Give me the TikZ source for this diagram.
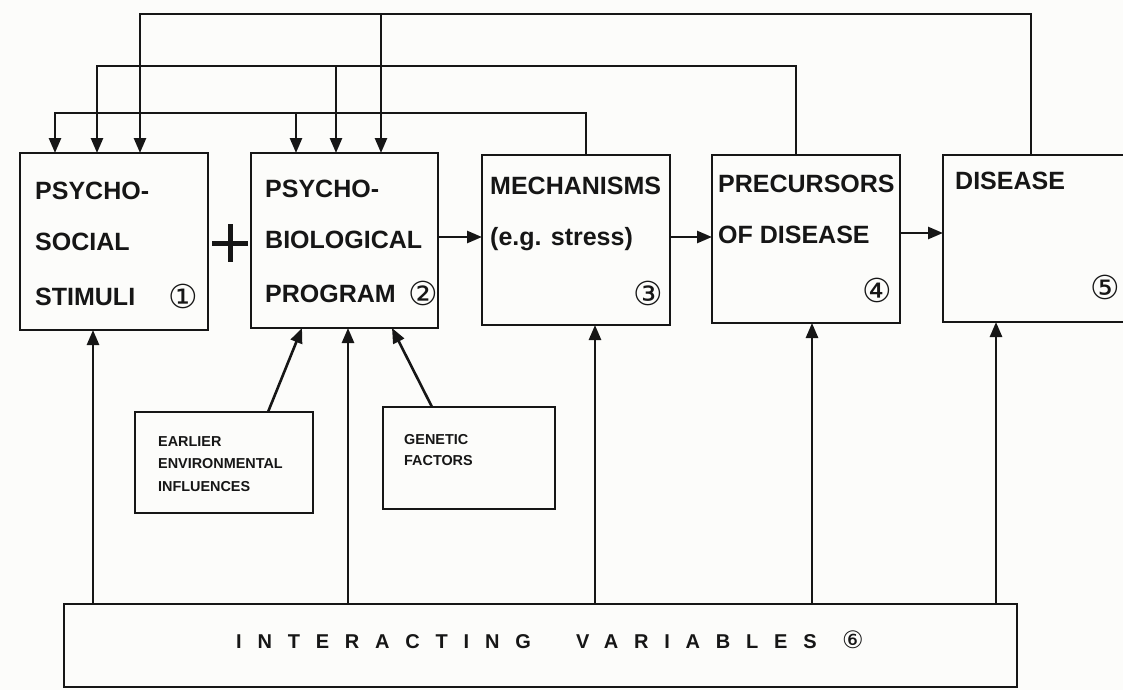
\documentclass[tikz,border=0pt]{standalone}
\usepackage{fontspec}
\setmainfont{Liberation Sans}
\newfontfamily\circfont{DejaVu Sans}
\usetikzlibrary{arrows.meta}
\definecolor{ink}{RGB}{22,22,22}
\definecolor{paper}{RGB}{252,252,250}
\begin{document}
\begin{tikzpicture}[x=1pt,y=-1pt,
  box/.style={draw=ink, line width=2.7pt, inner sep=0pt, outer sep=0pt},
  lbl/.style={anchor=base west, inner sep=0pt, text=ink, font=\bfseries\fontsize{25}{25}\selectfont},
  small/.style={anchor=base west, inner sep=0pt, text=ink, font=\bfseries\fontsize{14.4}{14.4}\selectfont},
  circ/.style={inner sep=0pt, text=ink, font=\circfont\mdseries\fontsize{33}{33}\selectfont},
  conn/.style={draw=ink, line width=2.6pt, line join=miter},
  arr/.style={conn, -{Triangle[length=15pt,width=12pt]}},
]
\fill[paper] (0,0) rectangle (1123,690);
\clip (0,0) rectangle (1123,690);

% main boxes
\node[box, minimum width=188pt, minimum height=177pt] (b1) at (114,241.5) {};
\node[box, minimum width=187pt, minimum height=175pt] (b2) at (344.5,240.5) {};
\node[box, minimum width=188pt, minimum height=170pt] (b3) at (576,240) {};
\node[box, minimum width=188pt, minimum height=168pt] (b4) at (806,239) {};
\node[box, minimum width=200pt, minimum height=167pt] (b5) at (1043,238.5) {};
% small boxes
\node[box, minimum width=178pt, minimum height=101pt] (ee) at (224,462.5) {};
\node[box, minimum width=172pt, minimum height=102pt] (gf) at (469,458) {};
% interacting variables
\node[box, minimum width=953pt, minimum height=83pt] (iv) at (540.5,645.5) {};

% texts
\node[lbl] (t1a) at (35,199) {PSYCHO-};
\node[lbl] (t1b) at (35,250) {SOCIAL};
\node[lbl] (t1c) at (35,305) {STIMULI};
\node[circ] (n1) at (183,296) {①};

\node[lbl] (t2a) at (265,197) {PSYCHO-};
\node[lbl] (t2b) at (265,248) {BIOLOGICAL};
\node[lbl] (t2c) at (265,302) {PROGRAM};
\node[circ] (n2) at (423,293) {②};

\node[lbl] (t3a) at (490,194) {MECHANISMS};
\node[lbl] (t3b) at (490,245) {(e.g. stress)};
\node[circ] (n3) at (648,293) {③};

\node[lbl] (t4a) at (718,192) {PRECURSORS};
\node[lbl] (t4b) at (718,243) {OF DISEASE};
\node[circ] (n4) at (877,290) {④};

\node[lbl] (t5a) at (955,189) {DISEASE};
\node[circ] (n5) at (1105,287) {⑤};

\node[small] (te1) at (158,446) {EARLIER};
\node[small] (te2) at (158,468) {ENVIRONMENTAL};
\node[small] (te3) at (158,491) {INFLUENCES};
\node[small] (tg1) at (404,444) {GENETIC};
\node[small] (tg2) at (404,465) {FACTORS};

\node[anchor=base west, inner sep=0pt, text=ink, font=\bfseries\fontsize{20}{20}\selectfont\addfontfeature{LetterSpace=79}] (tiv) at (236,648) {INTERACTING\hspace{24pt} VARIABLES\hspace{4pt} {\circfont\mdseries\fontsize{24}{24}\selectfont ⑥}};

% plus sign
\draw[ink, line width=5pt] (212,243) -- (248,243) (230,224) -- (230,262);

% arrows between boxes
\draw[arr] (b2.east |- 0,237) coordinate (a23s) -- (b3.west |- a23s);
\draw[arr] (b3.east |- 0,237) coordinate (a34s) -- (b4.west |- a34s);
\draw[arr] (b4.east |- 0,233) coordinate (a45s) -- (b5.west |- a45s);

% feedback lines on top
\coordinate (r1) at (1031,14);  \coordinate (l1) at (140,14); \coordinate (m1) at (381,14);
\coordinate (r2) at (796,66);   \coordinate (l2) at (97,66);  \coordinate (m2) at (336,66);
\coordinate (r3) at (586,113);  \coordinate (l3) at (55,113); \coordinate (m3) at (296,113);
\draw[arr] (r1 |- b5.north) -- (r1) -- (l1) -- (l1 |- b1.north);
\draw[arr] (m1) -- (m1 |- b2.north);
\draw[arr] (r2 |- b4.north) -- (r2) -- (l2) -- (l2 |- b1.north);
\draw[arr] (m2) -- (m2 |- b2.north);
\draw[arr] (r3 |- b3.north) -- (r3) -- (l3) -- (l3 |- b1.north);
\draw[arr] (m3) -- (m3 |- b2.north);

% interacting variables arrows
\coordinate (v1) at (93,0); \coordinate (v2) at (348,0); \coordinate (v3) at (595,0);
\coordinate (v4) at (812,0); \coordinate (v5) at (996,0);
\draw[arr] (v1 |- iv.north) -- (v1 |- b1.south);
\draw[arr] (v2 |- iv.north) -- (v2 |- b2.south);
\draw[arr] (v3 |- iv.north) -- (v3 |- b3.south);
\draw[arr] (v4 |- iv.north) -- (v4 |- b4.south);
\draw[arr] (v5 |- iv.north) -- (v5 |- b5.south);

% influences on program
\coordinate (d1s) at (268,0); \coordinate (d1e) at (302,0);
\coordinate (d2s) at (432,0); \coordinate (d2e) at (392,0);
\draw[arr] (d1s |- ee.north) -- (d1e |- b2.south);
\draw[arr] (d2s |- gf.north) -- (d2e |- b2.south);
\end{tikzpicture}
\end{document}
